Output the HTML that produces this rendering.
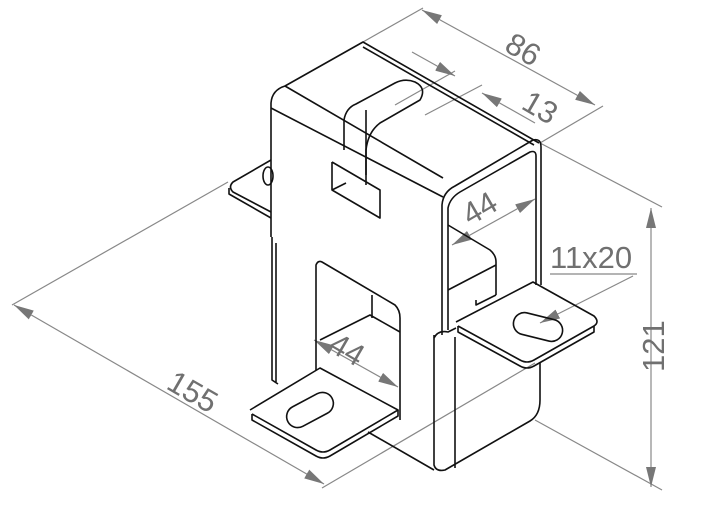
<!DOCTYPE html>
<html><head><meta charset="utf-8"><style>
html,body{margin:0;padding:0;background:#fff;width:724px;height:514px;overflow:hidden}
svg{display:block}
text{font-family:"Liberation Sans",sans-serif;fill:#707070;font-size:31px}
</style></head><body>
<svg width="724" height="514" viewBox="0 0 724 514" xmlns="http://www.w3.org/2000/svg">
<defs>
<marker id="a" viewBox="0 0 20 10" refX="20" refY="5" markerWidth="20" markerHeight="10" markerUnits="userSpaceOnUse" orient="auto-start-reverse"><path d="M0,0L20,5L0,10z" fill="#777"/></marker>
</defs>
<g stroke="#888" stroke-width="1.2" fill="none">
<line x1="363" y1="42" x2="423" y2="8"/>
<line x1="540" y1="143" x2="603" y2="106"/>
<line x1="422" y1="10" x2="595" y2="105" marker-start="url(#a)" marker-end="url(#a)"/>
<line x1="395" y1="105" x2="455" y2="71"/>
<line x1="425" y1="115" x2="482" y2="85"/>
<line x1="412" y1="52" x2="455" y2="76" marker-end="url(#a)"/>
<line x1="535" y1="123" x2="482" y2="93" marker-end="url(#a)"/>
<line x1="452" y1="245" x2="535" y2="199" marker-start="url(#a)" marker-end="url(#a)"/>
<line x1="550" y1="274" x2="637" y2="274"/>
<line x1="633" y1="276" x2="540" y2="323" marker-end="url(#a)"/>
<line x1="540" y1="143" x2="662" y2="207"/>
<line x1="535" y1="420" x2="662" y2="490"/>
<line x1="651" y1="208" x2="651" y2="487" marker-start="url(#a)" marker-end="url(#a)"/>
<line x1="12" y1="305" x2="228" y2="182"/>
<line x1="322" y1="488" x2="535" y2="363"/>
<line x1="14" y1="305" x2="324" y2="484" marker-start="url(#a)" marker-end="url(#a)"/>
<line x1="314" y1="340" x2="398" y2="387" marker-start="url(#a)" marker-end="url(#a)"/>
</g>
<g stroke="#111" stroke-width="1.6" fill="none" stroke-linejoin="round">
<path d="M271,237 L271,103 Q272,90 285,86 L363,42 L539,143"/>
<path d="M285,86 L443,178"/>
<path d="M271,108 L443,197"/>
<path d="M363,47 L534,145"/>
<path d="M344,150 L344,120 Q346,108 356,104 L395,83 Q405,78 415,82 Q427,88 420,100 L380,123 Q368,132 366,150 L366,175"/>
<line x1="366" y1="110" x2="366" y2="185"/>
<path d="M332,162 L332,190 L380,218 L380,190 L332,162 M332,190 L346,183"/>
<path d="M442,335 L442,205 Q443,192 455,186 L533,140 Q541,138 541,147 L541,285"/>
<path d="M448,330 L448,208 Q450,198 460,192 L530,152 Q536,150 536,156 L536,285"/>
<path d="M448,225 L490,250 Q496,255 496,262 L496,295"/>
<path d="M448,290 L496,265"/>
<path d="M476,300 L476,305 L496,295"/>
<path d="M456,322 L533,282 L594,316 Q600,322 594,326 L534,360 Q527,364 520,360 L458,326"/>
<path d="M458,326 L458,332 L520,366 Q527,370 534,366 L594,332 L594,326"/>
<rect x="513" y="316" width="50" height="22" rx="11" transform="rotate(14 538 327)"/>
<path d="M434,335 L434,465 Q436,472 445,470 L530,421 Q540,415 540,400 L540,362"/>
<line x1="455" y1="337" x2="455" y2="468"/>
<path d="M434,338 Q438,330 448,332 L456,328"/>
<path d="M368,432 L434,470"/>
<path d="M276,243 L276,382"/>
<path d="M272,237 L272,380 L278,384"/>
<path d="M316,370 L316,265 Q318,260 322,262 L395,305 Q400,310 400,318 L400,420"/>
<path d="M320,340 L370,315 L400,332"/>
<path d="M372,295 L372,318"/>
<path d="M250,410 L320,368 L398,410 L330,450 Q323,454 316,450 L252,414"/>
<path d="M252,414 L252,420 L316,456 Q323,460 330,456 L398,416 L398,410"/>
<rect x="285" y="399" width="50" height="22" rx="11" transform="rotate(-28 310 410)"/>
<path d="M271,160 L233,182 Q228,187 233,192 L271,212"/>
<path d="M229,188 L229,194 L271,218"/>
<ellipse cx="268" cy="176" rx="5" ry="9"/>
</g>
<text transform="translate(503,50) rotate(30)">86</text>
<text transform="translate(520,108) rotate(30)">13</text>
<text transform="translate(470,226) rotate(-30)">44</text>
<text x="550" y="268">11x20</text>
<text transform="translate(664,372) rotate(-90)">121</text>
<text transform="translate(165,388) rotate(30)">155</text>
<text transform="translate(327,350) rotate(30)">44</text>
</svg>
</body></html>
